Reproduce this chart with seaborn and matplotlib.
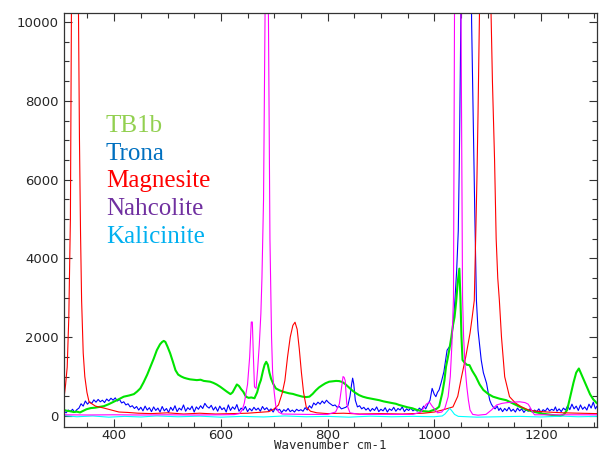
import pandas as pd
import seaborn as sns
import matplotlib
matplotlib.use("Agg")
import matplotlib.pyplot as plt
from matplotlib.ticker import MultipleLocator

##########################################
# Spectra #
##########################################

# TB1b (green)
tb1b_wn = [306, 312, 318, 324, 330, 336, 342, 348, 356, 364,
           372, 381, 390, 399, 408, 418, 428, 437, 443, 449,
           455, 462, 468, 474, 480, 486, 490, 493, 496, 500,
           505, 510, 515, 520, 526, 531, 536, 542, 548, 555,
           562, 568, 574, 580, 586, 592, 599, 605, 611, 618,
           622, 626, 630, 634, 638, 642, 647, 652, 657, 663,
           668, 672, 675, 679, 682, 685, 688, 691, 694, 698,
           703, 710, 718, 728, 735, 742, 753, 760, 766, 772,
           778, 784, 790, 796, 803, 810, 816, 822, 828, 834,
           840, 846, 852, 859, 866, 874, 882, 890, 897, 905,
           912, 920, 928, 934, 942, 950, 959, 966, 974, 982,
           990, 998, 1004, 1009, 1015, 1019, 1022, 1025, 1028, 1032,
           1035, 1038, 1041, 1044, 1047, 1049, 1051, 1053, 1057, 1061,
           1066, 1071, 1078, 1085, 1092, 1101, 1110, 1122, 1135, 1147,
           1160, 1172, 1185, 1202, 1218, 1236, 1243, 1249, 1255, 1261,
           1266, 1271, 1276, 1281, 1286, 1292, 1298, 1305]
tb1b_int = [150, 130, 120, 100, 110, 90, 130, 170, 200, 210,
            230, 250, 300, 360, 420, 490, 520, 555, 620, 700,
            850, 1050, 1250, 1450, 1670, 1820, 1880, 1905, 1880, 1760,
            1590, 1380, 1160, 1050, 1000, 970, 950, 930, 920, 910,
            920, 890, 880, 870, 840, 800, 740, 680, 620, 555,
            600, 700, 800, 760, 680, 615, 490, 460, 470, 450,
            600, 800, 910, 1150, 1300, 1375, 1300, 1100, 950, 820,
            700, 650, 610, 575, 560, 530, 490, 480, 490, 560,
            650, 725, 780, 830, 870, 880, 890, 885, 860, 800,
            725, 650, 590, 530, 490, 460, 440, 420, 400, 370,
            350, 330, 310, 280, 250, 220, 195, 160, 130, 120,
            110, 150, 180, 235, 580, 900, 1250, 1450, 1670, 2000,
            2300, 2510, 2900, 3400, 3740, 3000, 2000, 1420, 1350, 1300,
            1290, 1150, 995, 800, 660, 560, 490, 440, 400, 320,
            235, 160, 110, 60, 30, 0, 40, 150, 500, 850,
            1100, 1205, 1050, 900, 740, 550, 420, 320]

# Trona (blue)
trona_wn = [306, 310, 314, 318, 322, 326, 330, 334, 338, 342,
            346, 350, 354, 358, 362, 366, 370, 374, 378, 382,
            386, 390, 394, 398, 402, 406, 410, 414, 418, 422,
            426, 430, 434, 438, 442, 446, 450, 454, 458, 462,
            466, 470, 474, 478, 482, 486, 490, 494, 498, 502,
            506, 510, 514, 518, 522, 526, 530, 534, 538, 542,
            546, 550, 554, 558, 562, 566, 570, 574, 578, 582,
            586, 590, 594, 598, 602, 606, 610, 614, 618, 622,
            626, 630, 634, 638, 642, 646, 650, 654, 658, 662,
            666, 670, 674, 678, 682, 686, 690, 694, 698, 702,
            706, 710, 714, 718, 722, 726, 730, 734, 738, 742,
            746, 750, 754, 758, 762, 766, 770, 774, 778, 782,
            786, 790, 794, 798, 802, 806, 810, 814, 818, 822,
            826, 830, 834, 838, 842, 845, 847, 849, 852, 856,
            860, 864, 868, 872, 876, 880, 884, 888, 892, 896,
            900, 904, 908, 912, 916, 920, 924, 928, 932, 936,
            940, 944, 948, 952, 956, 960, 964, 968, 972, 976,
            980, 984, 988, 992, 996, 1000, 1003, 1006, 1009, 1013,
            1018, 1021, 1024, 1028, 1031, 1036, 1039, 1042, 1045, 1047,
            1049, 1051, 1055, 1060, 1065, 1068, 1070, 1073, 1076, 1079,
            1082, 1085, 1088, 1092, 1098, 1101, 1104, 1107, 1110, 1114,
            1118, 1121, 1124, 1128, 1132, 1136, 1140, 1144, 1148, 1152,
            1156, 1160, 1164, 1168, 1172, 1176, 1180, 1184, 1188, 1192,
            1196, 1200, 1204, 1208, 1212, 1216, 1220, 1224, 1227, 1230,
            1234, 1238, 1242, 1246, 1250, 1254, 1258, 1262, 1266, 1270,
            1274, 1278, 1282, 1286, 1290, 1294, 1298, 1302, 1305]
trona_int = [120, 80, 150, 110, 170, 90, 160, 200, 310, 250,
             380, 300, 360, 320, 410, 350, 420, 360, 400, 340,
             430, 380, 450, 400, 460, 380, 420, 330, 360, 280,
             310, 230, 260, 190, 240, 150, 220, 130, 250, 150,
             210, 110, 230, 140, 200, 100, 240, 130, 190, 90,
             220, 140, 260, 110, 200, 150, 280, 120, 210, 160,
             250, 100, 230, 170, 260, 190, 320, 240, 200, 270,
             150, 230, 120, 250, 160, 210, 100, 280, 140, 230,
             170, 290, 120, 200, 150, 240, 110, 190, 130, 220,
             150, 200, 120, 240, 160, 210, 130, 180, 100, 200,
             140, 170, 90, 160, 120, 190, 110, 150, 100, 170,
             130, 160, 120, 210, 150, 260, 200, 330, 280, 350,
             300, 380, 320, 400, 340, 300, 260, 280, 220, 240,
             180, 200, 220, 260, 500, 800, 960, 820, 400, 230,
             260, 180, 220, 150, 200, 120, 190, 140, 230, 110,
             170, 130, 210, 100, 180, 140, 220, 120, 190, 150,
             230, 110, 180, 140, 200, 130, 170, 120, 200, 150,
             250, 180, 300, 400, 700, 550, 490, 600, 660, 850,
             1120, 1400, 1670, 1750, 1800, 2400, 3000, 3700, 4700, 6500,
             9000, 12000, 18000, 22000, 18000, 12500, 10000, 7500, 5100, 2935,
             2180, 1800, 1420, 1100, 830, 600, 400, 300, 235, 180,
             250, 140, 200, 110, 190, 130, 220, 120, 170, 100,
             200, 130, 180, 90, 160, 120, 190, 100, 150, 110,
             180, 90, 160, 120, 200, 130, 170, 140, 230, 120,
             180, 110, 200, 150, 260, 160, 300, 180, 250, 140,
             280, 170, 230, 150, 300, 200, 350, 180, 250]

# Magnesite (red)
magnesite_wn = [306, 309, 312, 315, 318, 320, 326, 333, 335, 337,
                339, 342, 345, 349, 353, 365, 381, 395, 409, 425,
                445, 470, 500, 530, 560, 590, 620, 650, 670, 690,
                700, 708, 715, 720, 725, 730, 735, 739, 743, 747,
                751, 755, 760, 768, 780, 800, 830, 860, 900, 940,
                980, 1000, 1015, 1035, 1044, 1051, 1059, 1067, 1071, 1075,
                1078, 1080, 1082, 1085, 1089, 1095, 1101, 1106, 1109, 1113,
                1116, 1119, 1122, 1126, 1132, 1141, 1152, 1163, 1177, 1192,
                1212, 1242, 1272, 1305]
magnesite_int = [450, 800, 1240, 2500, 5000, 10500, 40000, 10500, 7000, 4630,
                 2935, 1600, 1000, 600, 354, 250, 200, 150, 100, 90,
                 70, 60, 80, 50, 70, 50, 60, 70, 90, 110,
                 180, 280, 580, 900, 1500, 2000, 2300, 2380, 2200, 1700,
                 1100, 600, 230, 120, 80, 60, 70, 50, 60, 50,
                 70, 100, 150, 230, 500, 990, 1500, 2100, 2500, 2935,
                 4780, 6050, 7660, 10500, 25000, 40000, 25000, 10500, 8500, 6500,
                 4500, 3500, 2935, 2000, 995, 490, 330, 235, 150, 120,
                 100, 80, 70, 60]

# Nahcolite (magenta)
nahcolite_wn = [306, 350, 400, 450, 500, 550, 600, 625, 635, 640,
                644, 650, 654, 657, 659, 661, 663, 666, 669, 672,
                675, 677, 680, 683, 686, 689, 692, 695, 697, 700,
                703, 708, 715, 760, 800, 815, 822, 826, 829, 831,
                833, 836, 842, 860, 960, 975, 985, 991, 996, 1006,
                1014, 1020, 1026, 1030, 1033, 1036, 1038, 1044, 1050, 1053,
                1055, 1058, 1061, 1064, 1067, 1072, 1082, 1097, 1107, 1117,
                1127, 1137, 1147, 1160, 1170, 1176, 1179, 1184, 1188, 1250,
                1305]
nahcolite_int = [30, 25, 30, 25, 30, 25, 30, 35, 60, 150,
                 330, 800, 1500, 2385, 2385, 1500, 740, 700, 1200, 1800,
                 2600, 3500, 5500, 10500, 17500, 10500, 4500, 2000, 1100, 600,
                 250, 100, 50, 40, 40, 100, 300, 700, 1000, 980,
                 900, 300, 80, 40, 40, 100, 300, 350, 250, 80,
                 100, 200, 490, 1000, 1800, 3000, 10500, 40000, 10500, 3000,
                 2000, 1200, 740, 400, 150, 40, 20, 40, 150, 280,
                 320, 340, 350, 360, 340, 300, 235, 100, 30, 30,
                 30]

# Kalicinite (cyan)
kalicinite_wn = [306, 330, 360, 390, 420, 450, 480, 520, 560, 600,
                 640, 680, 720, 760, 800, 840, 880, 920, 960, 1000,
                 1015, 1020, 1025, 1029, 1033, 1038, 1045, 1080, 1120, 1160,
                 1200, 1240, 1270, 1305]
kalicinite_int = [10, -20, 0, -30, -10, -25, 0, -20, -5, -30,
                  -10, -25, 0, -20, -10, -30, -5, -20, -10, -20,
                  0, 50, 130, 195, 130, 40, -10, -30, -20, -10,
                  -25, -5, -20, -10]

# legend labels and their colours
labels = ['TB1b', 'Trona', 'Magnesite', 'Nahcolite', 'Kalicinite']
label_colors = ['#92d050', '#0070c0', '#ff0000', '#7030a0', '#00b0f0']

#############
# Plotting  #
#############

sns.set_style("ticks")
plt.rcParams['font.family'] = ['DejaVu Sans']

fig = plt.figure(figsize=(5.99, 4.53), dpi=100)
ax = fig.add_axes([64/599, 1 - 427/453, (597 - 64)/599, (427 - 13)/453])

spectra = [
    (trona_wn, trona_int, '#0000ff', 0.8),
    (tb1b_wn, tb1b_int, '#00e400', 1.5),
    (magnesite_wn, magnesite_int, '#ff0000', 0.8),
    (kalicinite_wn, kalicinite_int, '#00ffff', 0.8),
    (nahcolite_wn, nahcolite_int, '#ff00ff', 0.8),
]
for wn, inten, col, lw in spectra:
    df = pd.DataFrame({'wavenumber': wn, 'intensity': inten})
    sns.lineplot(data=df, x='wavenumber', y='intensity', color=col,
                 linewidth=lw, estimator=None, sort=False, ax=ax)

ax.set_xlim(306, 1305)
ax.set_ylim(-280, 10230)

ax.xaxis.set_major_locator(MultipleLocator(200))
ax.xaxis.set_minor_locator(MultipleLocator(50))
ax.yaxis.set_major_locator(MultipleLocator(2000))
ax.yaxis.set_minor_locator(MultipleLocator(500))
ax.tick_params(which='both', direction='in', top=True, right=True,
               width=0.8, color='#333333', labelsize=9.5)
ax.tick_params(which='major', length=6)
ax.tick_params(which='minor', length=3.5)
ax.tick_params(axis='x', pad=1.5)
ax.tick_params(axis='y', pad=4)
for sp in ax.spines.values():
    sp.set_color('#333333')
    sp.set_linewidth(0.9)

ax.set_ylabel('')
ax.set_xlabel('Wavenumber cm-1', fontfamily='DejaVu Sans Mono', fontsize=9)
ax.xaxis.label.set_va('baseline')
ax.xaxis.set_label_coords(0.5, (427 - 449) / 414)

# coloured text legend
baselines = [132, 160, 187, 215, 243]
for lab, col, b in zip(labels, label_colors, baselines):
    ax.text((106 - 64) / 533, (427 - b) / 414, lab, transform=ax.transAxes,
            color=col, fontsize=18, fontfamily='Liberation Serif', va='baseline')

plt.savefig('out.png', dpi=100)
